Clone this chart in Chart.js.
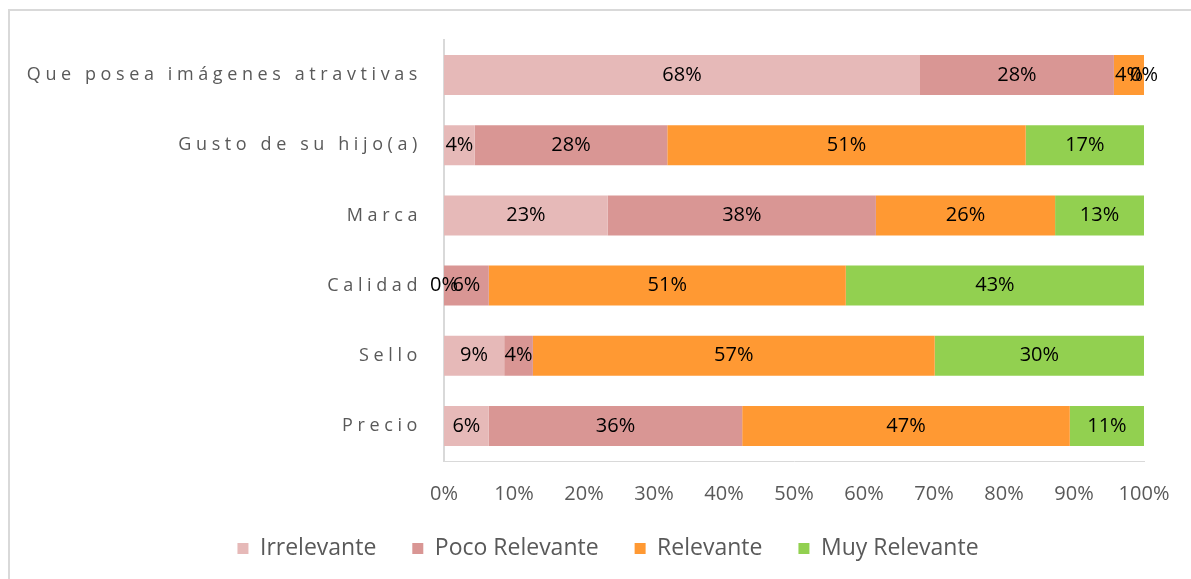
<!DOCTYPE html>
<html>
<head>
<meta charset="utf-8">
<script src="https://cdn.jsdelivr.net/npm/chart.js@4.4.0/dist/chart.umd.min.js"></script>
<style>
  html, body { margin: 0; padding: 0; background: #fff; overflow: hidden; }
  #wrap { position: absolute; left: 0; top: 0; width: 1191px; height: 579px; }
  #frame { position: absolute; left: 8px; top: 9px; width: 1300px; height: 700px; border: 2px solid #d9d9d9; box-sizing: border-box; }
  canvas { position: absolute; left: 0; top: 0; }
</style>
</head>
<body>
<div id="frame"></div>
<div id="wrap"><canvas id="c" width="1191" height="579"></canvas></div>
<script>
const categories = ["Que posea imágenes atravtivas", "Gusto de su hijo(a)", "Marca", "Calidad", "Sello", "Precio"];
const seriesNames = ["Irrelevante", "Poco Relevante", "Relevante", "Muy Relevante"];
const irrelevante    = [68.0, 4.4, 23.4, 0.0, 8.6, 6.4];
const pocoRelevante  = [27.7, 27.5, 38.3, 6.4, 4.1, 36.2];
const relevante      = [4.3, 51.2, 25.6, 51.0, 57.4, 46.8];
const muyRelevante   = [0.0, 16.9, 12.7, 42.6, 29.9, 10.6];
const xTicks = [0, 10, 20, 30, 40, 50, 60, 70, 80, 90, 100];
const colors = ["#E6B9B8", "#D99694", "#FF9933", "#92D050"];

const FONT = "'Open Sans'";

const valueLabels = {
  id: 'valueLabels',
  afterDatasetsDraw(chart) {
    const ctx = chart.ctx;
    ctx.save();
    ctx.font = "20px " + FONT;
    ctx.fillStyle = '#000';
    ctx.textAlign = 'center';
    ctx.textBaseline = 'middle';
    chart.data.datasets.forEach((ds, di) => {
      const meta = chart.getDatasetMeta(di);
      meta.data.forEach((bar, i) => {
        const v = ds.data[i];
        ctx.fillText(Math.round(v) + '%', (bar.base + bar.x) / 2, bar.y);
      });
    });
    ctx.restore();
  }
};

const spacedLabels = {
  id: 'spacedLabels',
  beforeDraw(chart) {
    const s = chart.scales.y;
    if (s && !s._spaced) {
      const orig = s.drawLabels.bind(s);
      s.drawLabels = function (ca) {
        this.ctx.save();
        this.ctx.letterSpacing = '4.6px';
        orig(ca);
        this.ctx.restore();
      };
      s._spaced = true;
    }
    // legend in the reference sits a bit right of the canvas centre
    if (chart.legend) { chart.legend.left = 72; }
  }
};

const datasets = [irrelevante, pocoRelevante, relevante, muyRelevante].map((d, i) => ({
  label: seriesNames[i],
  data: d,
  backgroundColor: colors[i],
  borderWidth: 0,
  barPercentage: 0.571,
  categoryPercentage: 1.0
}));

new Chart(document.getElementById('c'), {
  type: 'bar',
  data: { labels: categories, datasets },
  options: {
    indexAxis: 'y',
    responsive: false,
    animation: false,
    layout: { padding: { left: 0, right: 47, top: 40, bottom: 9 } },
    scales: {
      x: {
        stacked: true,
        min: 0, max: 100,
        afterBuildTicks: (s) => { s.ticks = xTicks.map(v => ({ value: v })); },
        afterFit: (s) => { s.height = 40; },
        grid: { display: false, drawTicks: false },
        border: { display: true, color: '#d9d9d9', width: 1 },
        ticks: { callback: (v) => v + '%', color: '#595959', font: { family: 'Open Sans', size: 20 }, padding: 21 }
      },
      y: {
        stacked: true,
        grid: { display: false, drawTicks: false },
        border: { display: true, color: '#d9d9d9', width: 2 },
        afterFit: (s) => { s.width = 444; },
        ticks: { color: '#595959', font: { family: 'Open Sans', size: 18 }, padding: 22 }
      }
    },
    plugins: {
      legend: {
        position: 'bottom',
        labels: { boxWidth: 11, boxHeight: 11, color: '#595959', font: { family: 'Open Sans', size: 23 }, padding: 36 }
      },
      tooltip: { enabled: false }
    }
  },
  plugins: [valueLabels, spacedLabels]
});
</script>
</body>
</html>
